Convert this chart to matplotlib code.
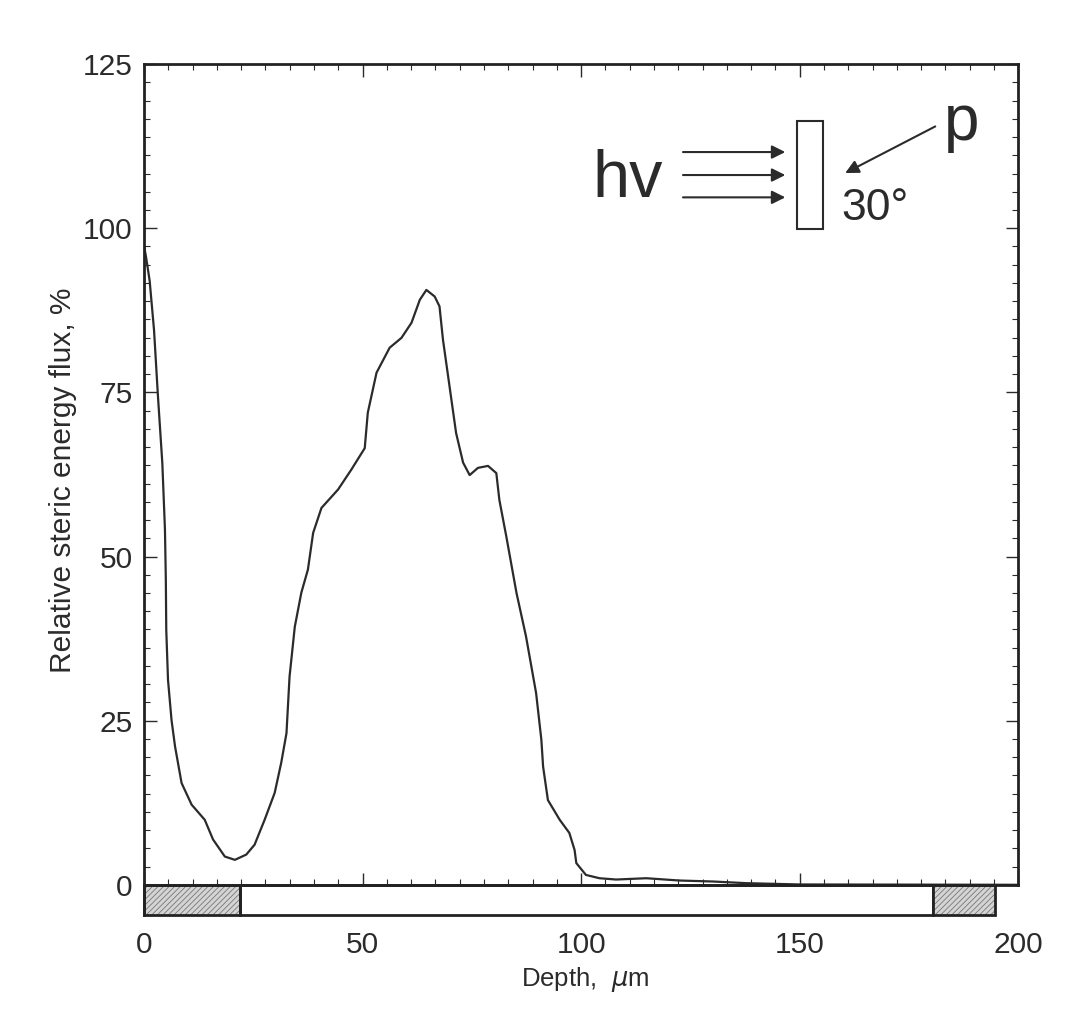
import numpy as np
import matplotlib
matplotlib.use("Agg")
import matplotlib.pyplot as plt
from matplotlib.patches import Rectangle
from matplotlib.ticker import FixedLocator

# steric energy flux profile
depth = [0.1, 0.5, 1.3, 2.3, 3.2, 4.2, 4.8, 5.0, 5.1, 5.5, 6.3, 7.1, 8.6, 10.9,
         13.9, 15.8, 18.5, 20.8, 23.4, 25.3, 27.6, 29.9, 31.4, 32.6, 33.3, 34.5,
         36.0, 37.5, 38.7, 40.6, 44.4, 47.4, 50.5, 51.2, 53.2, 56.2, 58.9, 61.2,
         63.1, 64.6, 66.5, 67.6, 68.4, 69.9, 71.4, 73.0, 74.5, 76.4, 78.7, 80.6,
         81.3, 82.9, 85.2, 87.4, 89.7, 90.9, 91.3, 92.4, 95.1, 97.3, 98.5, 98.9,
         101.1, 104.2, 108.0, 114.9, 122.5, 130.2, 137.7, 150.0, 200.0]
flux = [97.0, 95.5, 92.0, 84.5, 74.4, 64.2, 54.1, 46.5, 38.8, 31.2, 25.1, 21.1,
        15.5, 12.2, 9.9, 6.9, 4.3, 3.8, 4.6, 6.1, 9.9, 14.0, 18.6, 23.1, 31.7,
        39.3, 44.5, 48.0, 53.6, 57.4, 60.2, 63.2, 66.5, 71.9, 78.0, 81.8, 83.3,
        85.6, 89.1, 90.6, 89.6, 88.1, 83.0, 75.9, 68.8, 64.3, 62.4, 63.5, 63.8,
        62.7, 58.6, 53.0, 44.5, 37.8, 29.2, 22.1, 18.0, 12.9, 9.9, 7.9, 5.3, 3.3,
        1.5, 1.0, 0.8, 1.0, 0.65, 0.5, 0.25, 0.05, 0.0]

# sample bar under the axis (µm)
bar_start = [0.0, 22.0, 180.5]
bar_end = [22.0, 180.5, 194.7]
bar_hatched = [True, False, True]

x_ticks = [0, 50, 100, 150, 200]
y_ticks = [0, 25, 50, 75, 100, 125]

plt.rcParams['font.family'] = ['Liberation Sans', 'DejaVu Sans']
plt.rcParams['hatch.linewidth'] = 0.6
ink = "#2b2b2b"

fig = plt.figure(figsize=(10.72, 10.17), dpi=100)
ax = fig.add_axes([0.1343, 0.1003, 0.8156, 0.8367])

ax.plot(depth, flux, color=ink, lw=1.6)
ax.set_xlim(0, 200)
ax.set_ylim(-4.6, 125)

for side in ["left", "right", "top", "bottom"]:
    ax.spines[side].set_linewidth(2.0)
    ax.spines[side].set_color("#222222")
ax.spines["bottom"].set_position(("data", 0))
ax.spines["right"].set_bounds(0, 125)

ax.set_xticks(x_ticks)
ax.set_yticks(y_ticks)
ax.xaxis.set_minor_locator(FixedLocator(np.arange(0, 200.01, 50 / 9)))
ax.yaxis.set_minor_locator(FixedLocator(np.arange(0, 125.01, 25 / 9)))
ax.tick_params(which="both", direction="in", top=True, right=True, colors=ink)
ax.tick_params(which="major", length=9, width=1.0, labelsize=21.5)
ax.tick_params(which="minor", length=4, width=0.8)
ax.tick_params(axis="x", which="major", pad=33)
ax.tick_params(axis="y", which="major", pad=8)

# bar below the axis
for s, e, h in zip(bar_start, bar_end, bar_hatched):
    if h:
        ax.add_patch(Rectangle((s, -4.6), e - s, 4.6, facecolor="#d4d4d4",
                               edgecolor="#777777", hatch="//////", lw=0,
                               clip_on=False))
    ax.add_patch(Rectangle((s, -4.6), e - s, 4.6, facecolor="none",
                           edgecolor="#222222", lw=2.0, clip_on=False))

ax.set_ylabel("Relative steric energy flux, %", fontsize=21.5, color=ink)
ax.set_xlabel("Depth,  $\\mu$m", fontsize=18.5, color=ink)
ax.yaxis.set_label_coords(-0.077, 0.511)
ax.xaxis.set_label_coords(0.505, -0.059)

# inset sketch: light beam, sample, particle beam
ax.text(102.5, 104.7, "hv", fontsize=48, color=ink, ha="left", va="baseline")
for yy in [111.6, 108.1, 104.7]:
    ax.annotate("", xy=(146.7, yy), xytext=(123.3, yy),
                arrowprops=dict(arrowstyle="-|>", color=ink, lw=1.5,
                                mutation_scale=20, shrinkA=0, shrinkB=0))
ax.add_patch(Rectangle((149.4, 99.9), 5.9, 16.5, facecolor="white",
                       edgecolor=ink, lw=1.5))
ax.annotate("", xy=(160.4, 108.4), xytext=(181.0, 115.5),
            arrowprops=dict(arrowstyle="-|>", color=ink, lw=1.5,
                            mutation_scale=20, shrinkA=0, shrinkB=0))
ax.text(183.0, 113.4, "p", fontsize=46, color=ink, ha="left", va="baseline")
ax.text(159.5, 101.2, "30°", fontsize=32, color=ink, ha="left", va="baseline")

fig.savefig("out.png", dpi=100, facecolor="white")
